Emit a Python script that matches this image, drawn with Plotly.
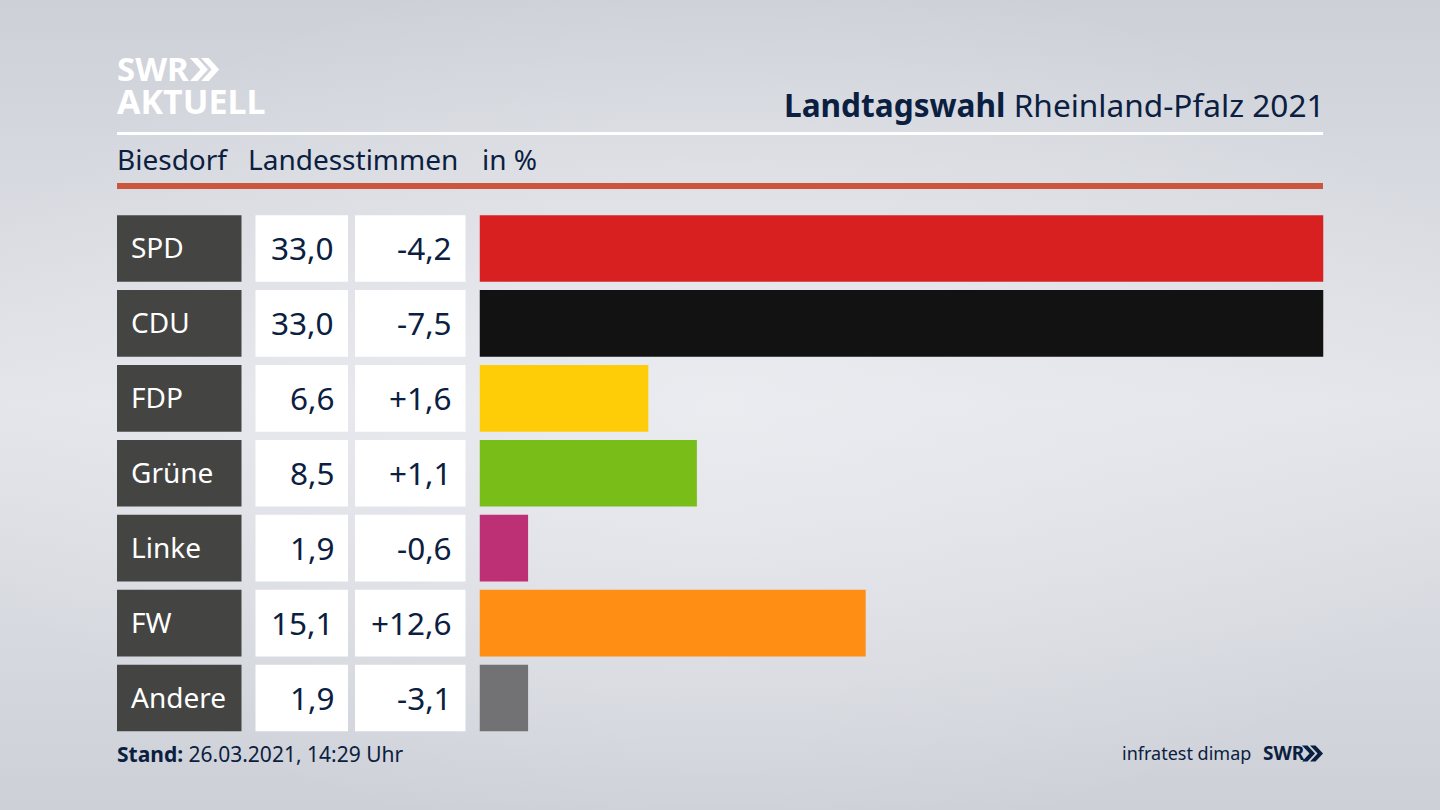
import base64
import plotly.graph_objects as go

parties = ["SPD", "CDU", "FDP", "Grüne", "Linke", "FW", "Andere"]
shares = [33.0, 33.0, 6.6, 8.5, 1.9, 15.1, 1.9]
share_labels = ["33,0", "33,0", "6,6", "8,5", "1,9", "15,1", "1,9"]
diff_labels = ["-4,2", "-7,5", "+1,6", "+1,1", "-0,6", "+12,6", "-3,1"]
bar_colors = ["#d7201f", "#121212", "#ffcd07", "#79bd19", "#bd3076", "#ff8e14", "#727274"]

W = 1440
H = 810
NAVY = "#0b2040"
FONT = "Noto Sans"


def px(x):
    return x / W


def py(y):
    return 1 - y / H


# grey backdrop, lighter in the middle
svg = """<svg xmlns="http://www.w3.org/2000/svg" width="1440" height="810">
<defs>
<linearGradient id="a" x1="0" y1="0" x2="0" y2="1">
<stop offset="0" stop-color="#cdd0d7"/><stop offset="0.5" stop-color="#e3e5ea"/><stop offset="1" stop-color="#cdd0d7"/>
</linearGradient>
<radialGradient id="b" cx="0.5" cy="0.5" r="0.55">
<stop offset="0" stop-color="#eeeff3" stop-opacity="0.65"/><stop offset="1" stop-color="#eeeff3" stop-opacity="0"/>
</radialGradient>
</defs>
<rect width="1440" height="810" fill="url(#a)"/>
<rect width="1440" height="810" fill="url(#b)"/>
</svg>"""
bg = "data:image/svg+xml;base64," + base64.b64encode(svg.encode()).decode()

fig = go.Figure()
fig.add_trace(go.Bar(
    x=shares,
    y=list(range(len(parties))),
    orientation="h",
    marker=dict(color=bar_colors, line=dict(width=0)),
    width=0.889,
    hovertext=parties,
    hoverinfo="text+x",
))

shapes = []
annotations = []


def box(x0, x1, i, color):
    shapes.append(dict(type="rect", xref="paper", yref="y", x0=px(x0), x1=px(x1),
                       y0=i - 0.4445, y1=i + 0.4445, fillcolor=color, line_width=0, layer="below"))


def label(x, i, text, size, color, anchor):
    annotations.append(dict(xref="paper", yref="y", x=px(x), y=i, text=text, showarrow=False,
                            xanchor=anchor, yanchor="middle", borderpad=0, yshift=1,
                            font=dict(family=FONT, size=size, color=color)))


for i in range(len(parties)):
    box(117, 241.5, i, "#444442")
    box(255.5, 348, i, "#ffffff")
    box(355, 465.5, i, "#ffffff")
    label(130, i, parties[i], 28, "#ffffff", "left")
    label(335, i, share_labels[i], 31.5, NAVY, "right")
    label(453, i, diff_labels[i], 31.5, NAVY, "right")


def page_text(x, y, text, size, color=NAVY, anchor="left", align="left"):
    annotations.append(dict(xref="paper", yref="paper", x=px(x), y=py(y), text=text, showarrow=False,
                            xanchor=anchor, yanchor="middle", borderpad=0, align=align,
                            font=dict(family=FONT, size=size, color=color)))


def rule(x0, x1, y0, y1, color):
    shapes.append(dict(type="rect", xref="paper", yref="paper", x0=px(x0), x1=px(x1),
                       y0=py(y0), y1=py(y1), fillcolor=color, line_width=0, layer="below"))


def chevrons(x, y, h, w, color):
    # the two arrow heads of the SWR logo, x/y = top left corner in pixels
    for dx in (0, w * 0.62):
        pts = [(x + dx, y), (x + dx + w * 0.42, y), (x + dx + w, y + h / 2),
               (x + dx + w * 0.42, y + h), (x + dx, y + h), (x + dx + w * 0.58, y + h / 2)]
        path = "M " + " L ".join(f"{px(a):.5f} {py(b):.5f}" for a, b in pts) + " Z"
        shapes.append(dict(type="path", xref="paper", yref="paper", path=path, fillcolor=color, line_width=0))


rule(117, 1323, 132, 135, "#ffffff")
rule(117, 1323, 183, 189, "#cb553d")

# logo as one block, small base size keeps the two lines tight
page_text(116, 85.5, '<b><span style="font-size:33px">SWR</span><br>'
          '<span style="font-size:34px">AKTUELL</span></b>', 25, "#ffffff")
chevrons(190, 58, 23, 18, "#ffffff")

page_text(1326, 104.5, "<b>Landtagswahl</b> Rheinland-Pfalz 2021", 31.6, anchor="right")
page_text(116, 159.5, "Biesdorf", 28)
page_text(247, 159.5, "Landesstimmen", 28)
page_text(481, 159.5, "in %", 28)
page_text(116, 754, "<b>Stand:</b> 26.03.2021, 14:29 Uhr", 21)
page_text(1252, 753, "infratest dimap", 18, anchor="right")
page_text(1262, 753, "<b>SWR</b>", 19)
chevrons(1302, 745.5, 16, 13, NAVY)

fig.update_layout(
    width=W,
    height=H,
    margin=dict(l=0, r=0, t=0, b=0),
    paper_bgcolor="#dcdee3",
    plot_bgcolor="rgba(0,0,0,0)",
    showlegend=False,
    shapes=shapes,
    annotations=annotations,
    images=[dict(source=bg, xref="paper", yref="paper", x=0, y=1, sizex=1, sizey=1,
                 sizing="stretch", xanchor="left", yanchor="top", layer="below")],
    xaxis=dict(domain=[px(479.5), px(1323.5)], range=[0, 33], visible=False, fixedrange=True),
    yaxis=dict(domain=[py(735.5), py(211)], range=[6.5, -0.5], visible=False, fixedrange=True),
)

fig.write_html("out.html", config={"displayModeBar": False},
               post_script="document.body.style.margin='0';")
